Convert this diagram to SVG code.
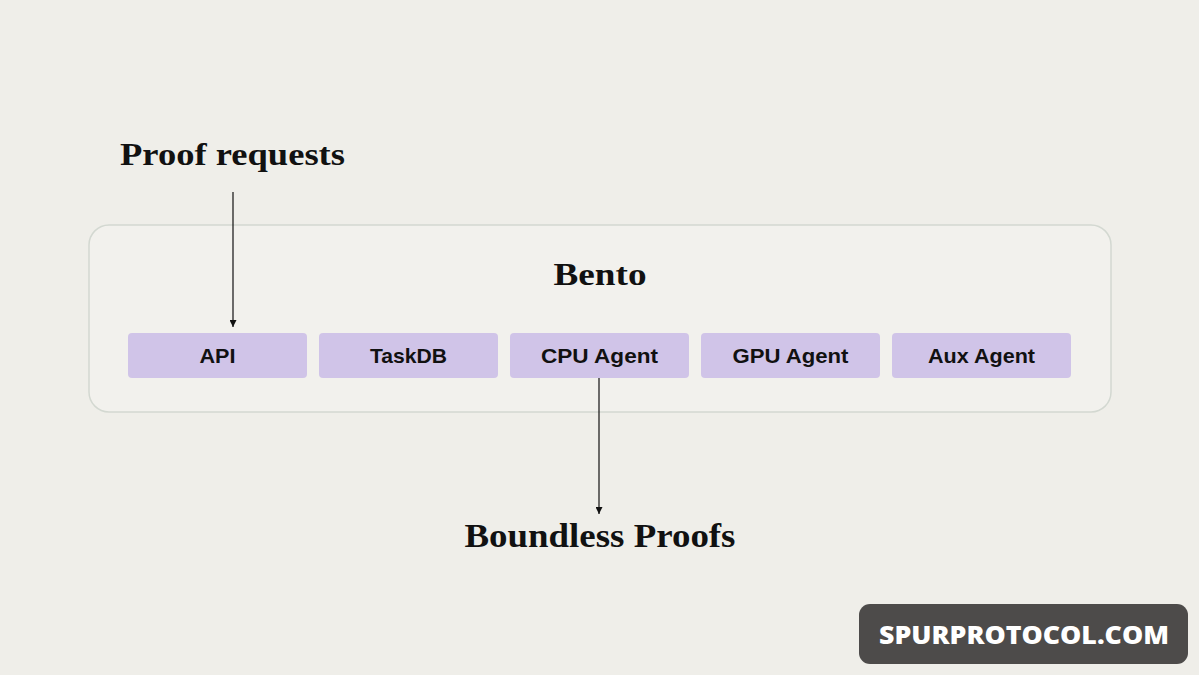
<svg xmlns="http://www.w3.org/2000/svg" width="1199" height="675" viewBox="0 0 1199 675">
<style>
.serif{font-family:"Liberation Serif","DejaVu Serif",serif;font-weight:bold;fill:#111}
.box{fill:#d0c4e8}
.lbl{font-family:"Liberation Sans","Inter",sans-serif;font-weight:700;font-size:21px;fill:#111;text-anchor:middle;dominant-baseline:central}
.conn{stroke:#111;stroke-width:1.2;fill:none}
</style>
<defs>
<marker id="arr" viewBox="0 0 10 10" refX="10" refY="5" markerWidth="7" markerHeight="7" markerUnits="userSpaceOnUse" orient="auto">
<path d="M0,0 L10,5 L0,10 z" fill="#111"/>
</marker>
</defs>
<rect width="1199" height="675" fill="#efeee9"/>
<g id="bento">
<rect x="89" y="225" width="1022" height="187" rx="20" fill="#f2f1ed" stroke="#d3d8d1" stroke-width="1.5"/>
<text class="serif" x="600" y="285" font-size="31" text-anchor="middle" textLength="93" lengthAdjust="spacingAndGlyphs">Bento</text>
</g>
<g id="api"><rect class="box" x="128" y="333" width="179" height="45" rx="4"/><text class="lbl" x="217.5" y="355.5" textLength="36" lengthAdjust="spacingAndGlyphs">API</text></g>
<g id="taskdb"><rect class="box" x="319" y="333" width="179" height="45" rx="4"/><text class="lbl" x="408.5" y="355.5" textLength="77" lengthAdjust="spacingAndGlyphs">TaskDB</text></g>
<g id="cpu"><rect class="box" x="510" y="333" width="179" height="45" rx="4"/><text class="lbl" x="599.5" y="355.5" textLength="117" lengthAdjust="spacingAndGlyphs">CPU Agent</text></g>
<g id="gpu"><rect class="box" x="701" y="333" width="179" height="45" rx="4"/><text class="lbl" x="790.5" y="355.5" textLength="116" lengthAdjust="spacingAndGlyphs">GPU Agent</text></g>
<g id="aux"><rect class="box" x="892" y="333" width="179" height="45" rx="4"/><text class="lbl" x="981.5" y="355.5" textLength="107" lengthAdjust="spacingAndGlyphs">Aux Agent</text></g>
<g id="proof-requests"><text class="serif" x="120" y="165" font-size="32" textLength="225" lengthAdjust="spacingAndGlyphs">Proof requests</text></g>
<g id="boundless-proofs"><text class="serif" x="600" y="547" font-size="33" text-anchor="middle" textLength="271" lengthAdjust="spacingAndGlyphs">Boundless Proofs</text></g>
<g id="connectors">
<line class="conn" x1="233" y1="192" x2="233" y2="327" marker-end="url(#arr)"/>
<line class="conn" x1="599" y1="378" x2="599" y2="514" marker-end="url(#arr)"/>
</g>
<g id="watermark">
<rect x="859" y="604" width="329" height="60" rx="11" fill="#4d4b4a"/>
<text x="1024" y="644" font-family="'Open Sans','Liberation Sans',sans-serif" font-weight="800" font-size="25" fill="#fff" text-anchor="middle" textLength="290" lengthAdjust="spacingAndGlyphs">SPURPROTOCOL.COM</text>
</g>
</svg>
